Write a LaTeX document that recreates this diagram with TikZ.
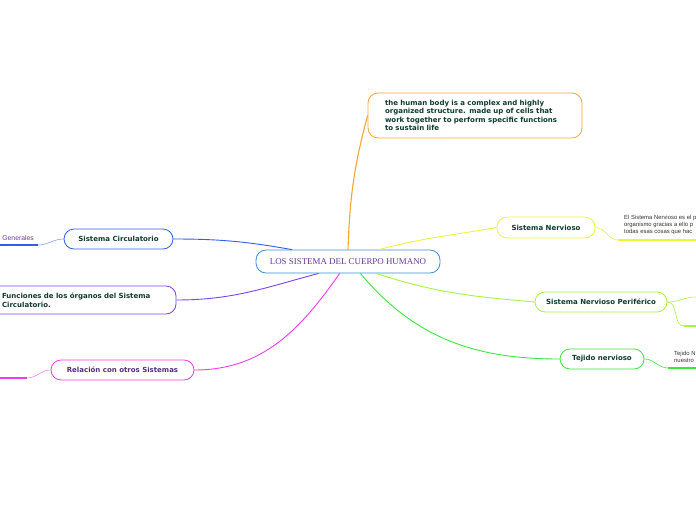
\documentclass[tikz,border=0pt]{standalone}
\usepackage{fontspec}
\setmainfont{Liberation Serif}
\newfontfamily\mapfont{DejaVu Sans}
\newfontfamily\notefont{Liberation Sans}
\usetikzlibrary{positioning}

\definecolor{rootblue}{HTML}{3C8FD6}
\definecolor{roottext}{HTML}{6A3A9A}
\definecolor{labeltext}{HTML}{0F3B2E}
\definecolor{notetext}{HTML}{333333}
\definecolor{orangeline}{HTML}{F7A531}
\definecolor{yellowline}{HTML}{EEF535}
\definecolor{limeline}{HTML}{A6F53A}
\definecolor{greenline}{HTML}{38E83A}
\definecolor{blueline}{HTML}{2F5FE8}
\definecolor{purpleline}{HTML}{7F3FF0}
\definecolor{magentaline}{HTML}{F03CE8}

\tikzset{
  root/.style={draw=rootblue, line width=0.8pt, rounded corners=10pt, fill=white,
    minimum width=184pt, minimum height=23pt, inner sep=0pt, text=roottext,
    font=\fontsize{8.9}{10}\selectfont},
  topic/.style={draw=#1, line width=0.8pt, rounded corners=10pt, fill=white,
    inner sep=0pt, text=labeltext, font=\mapfont\bfseries\fontsize{7}{8.5}\selectfont},
  note/.style={inner sep=0pt, align=left, text=notetext,
    font=\notefont\fontsize{5.9}{7}\selectfont},
  branch/.style={line width=#1},
  branch/.default=0.9pt
}

\begin{document}
\begin{tikzpicture}[x=1pt, y=-1pt]
\useasboundingbox (0,0) rectangle (696,520);
\clip (0,0) rectangle (696,520);

% central topic and main branches
\node[root] (root) at (348,261.5) {LOS SISTEMA DEL CUERPO HUMANO};

\node[topic=orangeline, text width=180pt, inner xsep=17pt, minimum height=45pt,
  align=left] (body) at (475,115.5)
  {the human body is a complex and highly\\organized structure. made up of cells that\\work together to perform specific functions\\to sustain life};
\node[topic=yellowline, minimum width=98pt, minimum height=21pt] (nerv) at (546,227.5) {Sistema Nervioso};
\node[topic=limeline, minimum width=132pt, minimum height=20pt] (peri) at (601,302) {Sistema Nervioso Periférico};
\node[topic=greenline, minimum width=84pt, minimum height=20pt] (tejido) at (602,359) {Tejido nervioso};
\node[topic=blueline, minimum width=109pt, minimum height=20pt] (circ) at (118.5,239) {Sistema Circulatorio};
\node[topic=purpleline, text width=156pt, inner xsep=18pt, minimum height=28pt,
  align=left] (func) at (80,300)
  {Funciones de los órganos del Sistema\\Circulatorio.};
\node[topic=magentaline, minimum width=143pt, minimum height=20pt, text=roottext!80!black] (rel) at (122.5,370) {Relación con otros Sistemas};

% subtopics (cut by the page edge)
\node[note, anchor=north west] (nervnote) at (624,215.5)
  {El Sistema Nervioso es el p\\organismo gracias a ello p\\todas esas cosas que hac};
\node[note, anchor=north west] (tejnote) at (674,351.5) {Tejido N\\nuestro};
\node[note, anchor=east, text=roottext, font=\notefont\fontsize{6.8}{7}\selectfont] (gen) at (34,238) {Generales};

\coordinate (nervline) at (618,240);
\coordinate (perup) at (696,297);
\coordinate (perdown) at (696,326);
\coordinate (perdownline) at (684,326);
\coordinate (tejline) at (668,368);
\coordinate (genline) at (38,245);
\coordinate (relline) at (27,378);

% connectors from the root
\draw[orangeline, branch=1.1pt] (root.north) to[out=88, in=-105] (body.west);
\draw[yellowline, branch] (root.21) to[out=15, in=190] (nerv.west);
\draw[limeline, branch] (root.-23) to[out=-18, in=175] (peri.west);
\draw[greenline, branch] (root.-44) to[out=-50, in=180] (tejido.west);
\draw[blueline, branch] (root.168) to[out=170, in=0] (circ.east);
\draw[purpleline, branch] (root.202) to[out=195, in=0] (func.east);
\draw[magentaline, branch] (root.235) to[out=-125, in=0] (rel.east);

% connectors to the subtopics
\draw[yellowline, branch=0.6pt] (nerv.east) to[out=0, in=180] (nervline);
\draw[yellowline, branch=1.4pt] (nervline) -- ++(80,0);
\draw[limeline, branch=0.6pt] (peri.east) to[out=0, in=180] (perup);
\draw[limeline, branch=0.6pt] (peri.east) to[out=0, in=180] (perdownline);
\draw[limeline, branch=1.2pt] (perdownline) -- (perdown);
\draw[greenline, branch=0.6pt] (tejido.east) to[out=0, in=180] (tejline);
\draw[greenline, branch=1.4pt] (tejline) -- ++(30,0);
\draw[blueline!60, branch=0.6pt] (circ.west) to[out=180, in=0] (genline);
\draw[blueline, branch=1.4pt] (genline) -- ++(-40,0);
\draw[magentaline!60, branch=0.6pt] (rel.west) to[out=180, in=0] (relline);
\draw[magentaline, branch=1.4pt] (relline) -- ++(-30,0);
\end{tikzpicture}
\end{document}
